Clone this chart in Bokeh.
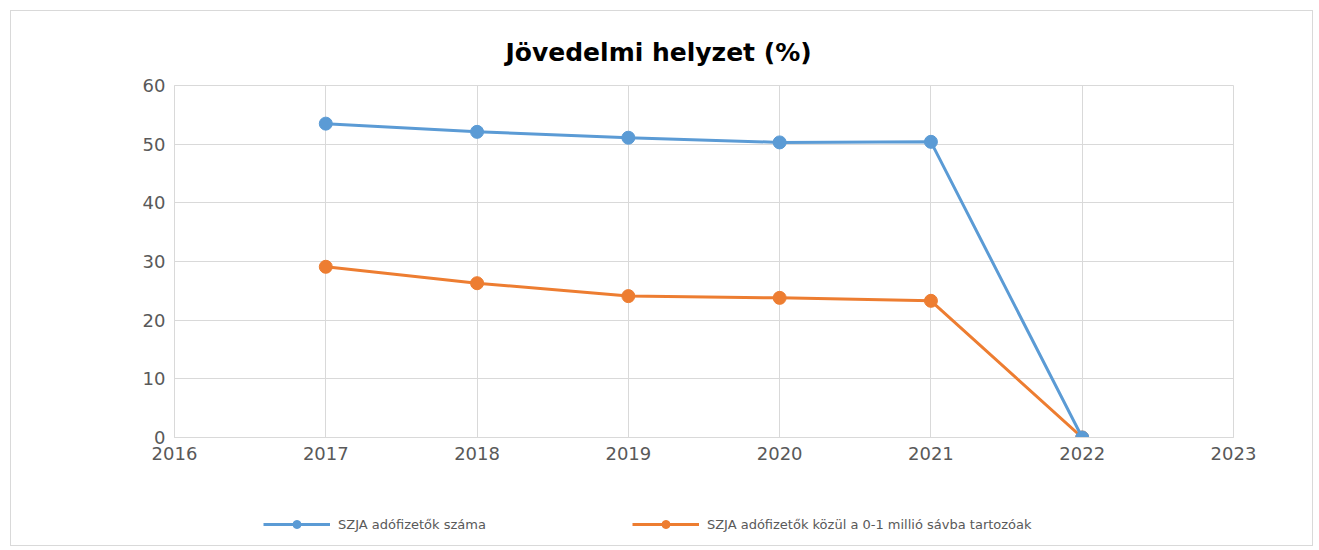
from bokeh.plotting import figure
from bokeh.models import Legend, LegendItem, Range1d, FixedTicker
from bokeh.layouts import column
from bokeh.embed import file_html
from bokeh.resources import INLINE

years = [2017, 2018, 2019, 2020, 2021, 2022]
szja_total = [53.5, 52.1, 51.1, 50.3, 50.4, 0.0]
szja_0_1 = [29.1, 26.3, 24.1, 23.8, 23.3, 0.0]
x_ticks = [2016, 2017, 2018, 2019, 2020, 2021, 2022, 2023]
y_ticks = [0, 10, 20, 30, 40, 50, 60]
series_names = ["SZJA adófizetők száma", "SZJA adófizetők közül a 0-1 millió sávba tartozóak"]

BLUE = "#5b9bd5"
ORANGE = "#ed7d31"
GRID = "#d9d9d9"
LABEL = "#595959"
FONT = "DejaVu Sans"

p = figure(frame_width=1057, frame_height=351, output_backend="svg", toolbar_location=None,
           x_range=Range1d(2016, 2023), y_range=Range1d(0, 60),
           min_border_left=163, min_border_right=81, min_border_top=74, min_border_bottom=30,
           title="Jövedelmi helyzet (%)")
p.margin = (10, 0, 0, 10)
p.styles = {"border": "1px solid #d9d9d9", "border-bottom": "none"}

p.title.align = "left"
p.title.text_font = FONT
p.title.text_font_size = "25px"
p.title.text_font_style = "bold"
p.title.text_color = "#000000"
p.title.standoff = 38
p.title.offset = 331

p.outline_line_color = GRID
for ax in (p.xaxis, p.yaxis):
    ax.axis_line_color = GRID
    ax.major_tick_line_color = None
    ax.minor_tick_line_color = None
    ax.major_label_text_font = FONT
    ax.major_label_text_font_size = "18px"
    ax.major_label_text_color = LABEL
p.xaxis.ticker = FixedTicker(ticks=x_ticks)
p.yaxis.ticker = FixedTicker(ticks=y_ticks)
p.xaxis.major_label_standoff = 3
p.yaxis.major_label_standoff = 3
p.xgrid.ticker = FixedTicker(ticks=x_ticks)
p.ygrid.ticker = FixedTicker(ticks=y_ticks)
p.grid.grid_line_color = GRID
p.grid.grid_line_width = 1

p.line(years, szja_0_1, line_color=ORANGE, line_width=3)
p.scatter(years, szja_0_1, size=13, fill_color=ORANGE, line_color=ORANGE)
p.line(years, szja_total, line_color=BLUE, line_width=3)
p.scatter(years, szja_total, size=13, fill_color=BLUE, line_color=BLUE)

# legend strip below the chart; the proxies only carry the series styles
# and sit outside the visible range of this strip
lp = figure(width=1303, height=80, output_backend="svg", toolbar_location=None,
            x_range=Range1d(0, 1), y_range=Range1d(0, 1), min_border=0)
lp.margin = (0, 0, 0, 10)
lp.styles = {"border": "1px solid #d9d9d9", "border-top": "none"}
lp.axis.visible = False
lp.grid.visible = False
lp.outline_line_color = None

proxy_x = [-5, -4]
proxy_y = [-5, -4]
pl1 = lp.line(proxy_x, proxy_y, line_color=BLUE, line_width=3)
ps1 = lp.scatter(proxy_x, proxy_y, size=13, fill_color=BLUE, line_color=BLUE)
pl2 = lp.line(proxy_x, proxy_y, line_color=ORANGE, line_width=3)
ps2 = lp.scatter(proxy_x, proxy_y, size=13, fill_color=ORANGE, line_color=ORANGE)

legend = Legend(items=[LegendItem(label=series_names[0], renderers=[pl1, ps1]),
                       LegendItem(label=series_names[1], renderers=[pl2, ps2])],
                orientation="horizontal", location=(89, 12),
                glyph_width=67, glyph_height=20, spacing=146, padding=0, margin=0,
                label_text_font=FONT, label_text_font_size="13px", label_text_color=LABEL,
                label_standoff=8, border_line_color=None, background_fill_alpha=0)
lp.add_layout(legend, "center")

layout = column(p, lp, spacing=0)
open("out.html", "w").write(file_html(layout, INLINE))
